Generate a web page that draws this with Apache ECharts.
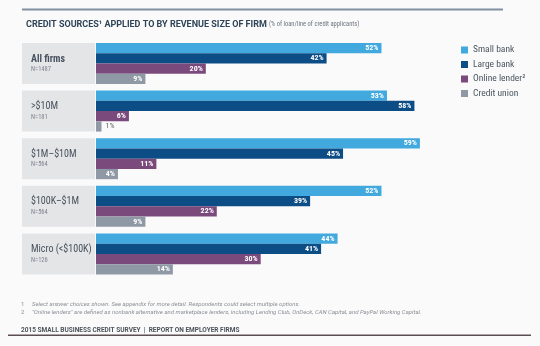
<!DOCTYPE html>
<html>
<head>
<meta charset="utf-8">
<script src="https://cdn.jsdelivr.net/npm/echarts@6/dist/echarts.min.js"></script>
<style>
  html, body { margin: 0; padding: 0; background: #fafafa; }
  #chart { width: 540px; height: 346px; }
</style>
</head>
<body>
<div id="chart"></div>
<script>
// Revenue-size groups and their sample sizes
const categories = ['All firms', '>$10M', '$1M–$10M', '$100K–$1M', 'Micro (<$100K)'];
const sampleSizes = ['N=1487', 'N=181', 'N=564', 'N=564', 'N=126'];

// Share of loan/line of credit applicants applying to each source (%)
const seriesNames = ['Small bank', 'Large bank', 'Online lender²', 'Credit union'];
const smallBank = [52, 53, 59, 52, 44];
const largeBank = [42, 58, 45, 39, 41];
const onlineLender = [20, 6, 11, 22, 30];
const creditUnion = [9, 1, 4, 9, 14];

const colors = ['#41a9de', '#0d4d85', '#7b4a7d', '#8f99a5'];
const narrow = '"Roboto Condensed", "Liberation Sans Narrow", "DejaVu Sans Condensed", Roboto, sans-serif';

function barData(values) {
  // short bars get their value written just past the bar end
  return values.map(v => v < 3
    ? { value: v, label: { position: 'right', distance: 4, color: '#666', fontWeight: 'normal' } }
    : v);
}

function makeSeries(name, values, color) {
  return {
    name: name,
    type: 'bar',
    data: barData(values),
    barWidth: 10.25,
    barGap: '0%',
    itemStyle: { color: color },
    label: {
      show: true,
      position: 'insideRight',
      distance: 3,
      formatter: '{c}%',
      color: '#ffffff',
      fontSize: 8,
      fontWeight: 'bold',
      fontFamily: narrow
    },
    emphasis: { disabled: true }
  };
}

const chart = echarts.init(document.getElementById('chart'), null, { renderer: 'canvas' });

chart.setOption({
  backgroundColor: '#fafafa',
  animation: false,
  title: {
    text: 'CREDIT SOURCES¹ APPLIED TO BY REVENUE SIZE OF FIRM {s|(% of loan/line of credit applicants)}',
    left: 21,
    top: 15,
    textStyle: {
      fontFamily: 'Roboto, sans-serif',
      fontSize: 9,
      fontWeight: 'bold',
      color: '#2f4458',
      rich: {
        s: { fontSize: 6.5, fontWeight: 'normal', color: '#6b7580', fontFamily: narrow }
      }
    }
  },
  legend: {
    orient: 'vertical',
    left: 456,
    top: 39,
    itemWidth: 7,
    itemHeight: 7,
    itemGap: 2.5,
    icon: 'rect',
    data: seriesNames,
    selectedMode: false,
    textStyle: {
      fontFamily: narrow,
      fontSize: 9.5,
      lineHeight: 12,
      color: '#4b5661',
      padding: [0, 0, 0, 0]
    }
  },
  grid: {
    left: 96,
    right: 114.6,
    top: 39.7,
    height: 238,
    containLabel: false
  },
  xAxis: {
    type: 'value',
    min: 0,
    max: 60,
    show: false
  },
  yAxis: {
    type: 'category',
    inverse: true,
    data: categories,
    axisLine: { show: false },
    axisTick: { show: false },
    splitLine: { show: false },
    axisLabel: {
      align: 'left',
      margin: 74,
      backgroundColor: '#e4e5e7',
      width: 64,
      padding: [10, 0, 10, 9],
      formatter: function (value, index) {
        const key = index === 0 ? 'first' : 'name';
        return '{' + key + '|' + value + '}\n{n|' + sampleSizes[index] + '}';
      },
      rich: {
        first: { fontFamily: narrow, fontSize: 10, fontWeight: 'bold', color: '#47525e', lineHeight: 12, align: 'left' },
        name: { fontFamily: narrow, fontSize: 10, color: '#47525e', lineHeight: 12, align: 'left' },
        n: { fontFamily: narrow, fontSize: 6.5, color: '#7d848c', lineHeight: 9, align: 'left' }
      }
    }
  },
  series: [
    makeSeries(seriesNames[0], smallBank, colors[0]),
    makeSeries(seriesNames[1], largeBank, colors[1]),
    makeSeries(seriesNames[2], onlineLender, colors[2]),
    makeSeries(seriesNames[3], creditUnion, colors[3])
  ],
  graphic: [
    { type: 'rect', shape: { x: 22, y: 8.5, width: 481, height: 2 }, style: { fill: '#7f90a1' }, silent: true },
    { type: 'rect', shape: { x: 8, y: 334.5, width: 523, height: 1.5 }, style: { fill: '#5b4f52' }, silent: true },
    { type: 'text', x: 21, y: 301, style: { text: '1', fontSize: 6, fontFamily: 'Roboto, sans-serif', fill: '#8a8f95' } },
    { type: 'text', x: 32, y: 301, style: { text: 'Select answer choices shown. See appendix for more detail. Respondents could select multiple options.', fontSize: 6, fontStyle: 'italic', fontFamily: 'Roboto, sans-serif', fill: '#8a8f95' } },
    { type: 'text', x: 21, y: 309, style: { text: '2', fontSize: 6, fontFamily: 'Roboto, sans-serif', fill: '#8a8f95' } },
    { type: 'text', x: 32, y: 309, style: { text: '"Online lenders" are defined as nonbank alternative and marketplace lenders, including Lending Club, OnDeck, CAN Capital, and PayPal Working Capital.', fontSize: 6, fontStyle: 'italic', fontFamily: 'Roboto, sans-serif', fill: '#8a8f95' } },
    { type: 'text', x: 21, y: 327, style: { text: '2015 SMALL BUSINESS CREDIT SURVEY  |  REPORT ON EMPLOYER FIRMS', fontSize: 6.5, fontWeight: 'bold', fontFamily: 'Roboto, sans-serif', fill: '#4c535a' } }
  ]
});
</script>
</body>
</html>
